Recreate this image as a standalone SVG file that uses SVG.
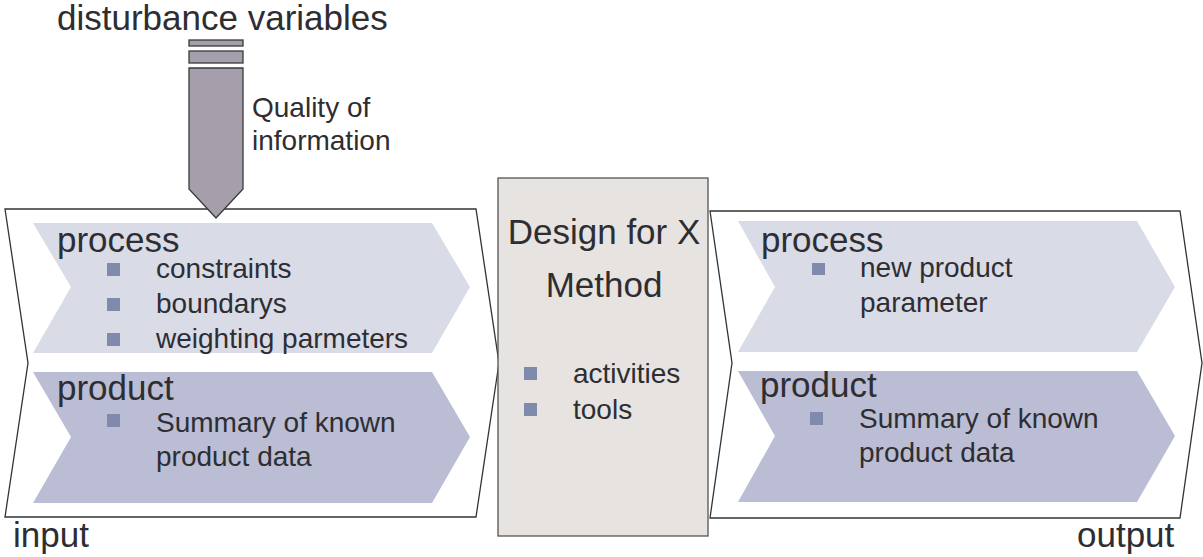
<svg xmlns="http://www.w3.org/2000/svg" width="1203" height="557" viewBox="0 0 1203 557">
<style>
.t{font-family:"Liberation Sans",Arial,sans-serif;fill:#2e2e32}
.h{font-size:35px}
.b{font-size:28px}
.outline{fill:#ffffff;stroke:#333333;stroke-width:1.3}
.chevA{fill:#d9dbe7}
.chevB{fill:#babdd3}
.bul{fill:#7f8aad}
.arrow{fill:#a49fab;stroke:#3a3a3a;stroke-width:1.3}
</style>
<rect width="1203" height="557" fill="#ffffff"/>
<g id="disturbance">
<text class="t h" x="57" y="30">disturbance variables</text>
<rect class="arrow" x="189" y="40" width="54" height="6"/>
<rect class="arrow" x="189" y="51" width="54" height="12"/>
</g>
<g id="input">
<polygon class="outline" points="5,209 476,209 499,363 476,517 5,517 28,363"/>
<polygon class="chevA" points="33,223 432,223 470,287 432,353 33,353 71,287"/>
<polygon class="chevB" points="33,372 432,372 470,437 432,503 33,503 71,437"/>
<text class="t h" x="57" y="252">process</text>
<rect class="bul" x="107" y="263" width="13" height="13"/>
<text class="t b" x="156" y="278">constraints</text>
<rect class="bul" x="107" y="298" width="13" height="13"/>
<text class="t b" x="156" y="313">boundarys</text>
<rect class="bul" x="107" y="333" width="13" height="13"/>
<text class="t b" x="156" y="348">weighting parmeters</text>
<text class="t h" x="57" y="400">product</text>
<rect class="bul" x="107" y="414" width="13" height="13"/>
<text class="t b" x="156" y="432">Summary of known</text>
<text class="t b" x="156" y="466">product data</text>
<text class="t h" x="13" y="547">input</text>
</g>
<g id="connectors">
<polygon class="arrow" points="189,68 243,68 243,189 216,218 189,189"/>
</g>
<g id="quality-label">
<text class="t b" x="252" y="117">Quality of</text>
<text class="t b" x="252" y="150">information</text>
</g>
<g id="method">
<rect x="498" y="178" width="210" height="358" fill="#e6e3e0" stroke="#555555" stroke-width="1.3"/>
<text class="t h" x="604" y="244" text-anchor="middle">Design for X</text>
<text class="t h" x="604" y="297" text-anchor="middle">Method</text>
<rect class="bul" x="524" y="367" width="13" height="13"/>
<text class="t b" x="573" y="383">activities</text>
<rect class="bul" x="524" y="403" width="13" height="13"/>
<text class="t b" x="573" y="419">tools</text>
</g>
<g id="output">
<polygon class="outline" points="710,211 1180,211 1202,363 1180,518 710,518 732,363"/>
<polygon class="chevA" points="738,221 1137,221 1175,287 1137,352 738,352 775,287"/>
<polygon class="chevB" points="738,371 1137,371 1175,436 1137,502 738,502 775,436"/>
<text class="t h" x="761" y="252">process</text>
<rect class="bul" x="812" y="263" width="13" height="12"/>
<text class="t b" x="860" y="277">new product</text>
<text class="t b" x="860" y="312">parameter</text>
<text class="t h" x="760" y="397">product</text>
<rect class="bul" x="810" y="412" width="13" height="13"/>
<text class="t b" x="859" y="428">Summary of known</text>
<text class="t b" x="859" y="462">product data</text>
<text class="t h" x="1077" y="547">output</text>
</g>
</svg>
